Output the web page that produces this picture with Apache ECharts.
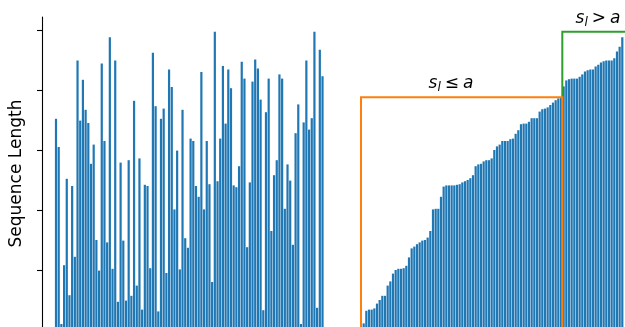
<!DOCTYPE html>
<html>
<head>
<meta charset="utf-8">
<script src="https://cdn.jsdelivr.net/npm/echarts@6/dist/echarts.min.js"></script>
<style>
  html, body { margin: 0; padding: 0; background: #fff; overflow: hidden; }
  #chart { width: 640px; height: 340px; }
</style>
</head>
<body>
<div id="chart"></div>
<script>
// Sequence lengths in arrival order
const unsortedLengths = [
  352, 305, 10, 108, 252, 58, 240, 122, 449, 349, 417, 367, 345, 277, 309, 150, 99, 444, 315, 146, 488, 102, 449, 47,
  279, 149, 49, 283, 57, 382, 74, 286, 34, 242, 240, 103, 462, 373, 31, 352, 369, 95, 434, 405, 201, 299, 101, 367, 153,
  137, 319, 315, 240, 222, 430, 201, 315, 243, 80, 497, 248, 319, 440, 344, 434, 403, 241, 238, 273, 447, 419, 138, 246, 414, 451,
  436, 384, 33, 363, 419, 165, 258, 283, 426, 419, 202, 276, 249, 142, 328, 376, 10, 346, 449, 334, 353, 497, 37, 467, 423
];

// Sequence lengths after sorting
const sortedLengths = [
  11, 32, 34, 34, 36, 44, 50, 57, 57, 74, 81, 94, 100, 102, 102, 103, 107, 121, 136, 139, 143, 146, 149, 150, 154, 165, 201, 202, 202, 222, 239,
  241, 241, 241, 241, 242, 243, 246, 248, 250, 253, 258, 273, 276, 277, 281, 283, 283, 286, 300, 306, 309, 315, 315, 315, 318, 319, 327, 333, 343, 344, 344, 347,
  353, 353, 353, 364, 368, 369, 371, 375, 379, 383, 386, 388,
  406, 416, 418, 419, 419, 419, 422, 426, 431, 433, 434, 434, 439, 442, 446, 448, 449, 449, 449, 453, 464, 472, 488
];

const yTicks = [100, 200, 300, 400, 500];
const threshold = 388;      // a
const maxLength = 497;
const splitIndex = 74.5;    // boundary between s_l <= a and s_l > a in the sorted list

const BLUE = '#1f77b4';
const ORANGE = '#ff7f0e';
const GREEN = '#2ca02c';
const Y_MAX = 521.67;

const chart = echarts.init(document.getElementById('chart'), null, { renderer: 'canvas' });

const mathRich = {
  i: { fontFamily: 'DejaVu Sans', fontStyle: 'italic', fontSize: 17, color: '#000' },
  sub: { fontFamily: 'DejaVu Sans', fontStyle: 'italic', fontSize: 12, color: '#000', padding: [7, 0, 0, 0] },
  op: { fontFamily: 'DejaVu Sans', fontSize: 17, color: '#000', padding: [0, 4, 0, 4] }
};

chart.setOption({
  animation: false,
  backgroundColor: '#fff',
  grid: [
    { left: 42, top: 17, width: 283.2, height: 313, outerBoundsMode: 'none', containLabel: false },
    { left: 361, top: 17, width: 269.3, height: 313, outerBoundsMode: 'none', containLabel: false }
  ],
  xAxis: [
    { type: 'value', gridIndex: 0, min: -5.2, max: 100, show: false },
    { type: 'value', gridIndex: 1, min: -1, max: 100, show: false }
  ],
  yAxis: [
    {
      type: 'value', gridIndex: 0, min: 0, max: Y_MAX,
      name: 'Sequence Length',
      nameLocation: 'middle',
      nameGap: 17,
      nameTextStyle: { fontFamily: 'DejaVu Sans', fontSize: 17, color: '#000' },
      axisLine: { show: true, onZero: false, lineStyle: { color: '#000', width: 1.1 } },
      axisTick: { show: true, length: 5, customValues: yTicks, lineStyle: { color: '#000', width: 1.1 } },
      axisLabel: { show: false, customValues: yTicks },
      splitLine: { show: false }
    },
    { type: 'value', gridIndex: 1, min: 0, max: Y_MAX, show: false, splitLine: { show: false } }
  ],
  series: [
    {
      type: 'bar', xAxisIndex: 0, yAxisIndex: 0,
      barWidth: 2.2,
      itemStyle: { color: BLUE },
      data: unsortedLengths.map((v, i) => [i, v])
    },
    {
      type: 'bar', xAxisIndex: 1, yAxisIndex: 1,
      barWidth: 2.2,
      itemStyle: { color: BLUE },
      data: sortedLengths.map((v, i) => [i, v])
    },
    {
      // region of sequences longer than a
      type: 'line', xAxisIndex: 1, yAxisIndex: 1,
      symbol: 'none', clip: false, silent: true, z: 3,
      lineStyle: { color: GREEN, width: 2, join: 'miter' },
      data: [[splitIndex, 0], [splitIndex, maxLength], [99.5, maxLength], [99.5, 0]]
    },
    {
      // region of sequences no longer than a
      type: 'line', xAxisIndex: 1, yAxisIndex: 1,
      symbol: 'none', clip: false, silent: true, z: 4,
      lineStyle: { color: ORANGE, width: 2, join: 'miter' },
      data: [[-1, 0], [-1, threshold], [splitIndex, threshold], [splitIndex, 0]]
    }
  ],
  graphic: [
    {
      type: 'text', x: 451, y: 84, z: 10,
      style: { text: '{i|s}{sub|l}{op|≤}{i|a}', rich: mathRich, align: 'center', verticalAlign: 'middle' }
    },
    {
      type: 'text', x: 598, y: 19, z: 10,
      style: { text: '{i|s}{sub|l}{op|>}{i|a}', rich: mathRich, align: 'center', verticalAlign: 'middle' }
    }
  ]
});
</script>
</body>
</html>
